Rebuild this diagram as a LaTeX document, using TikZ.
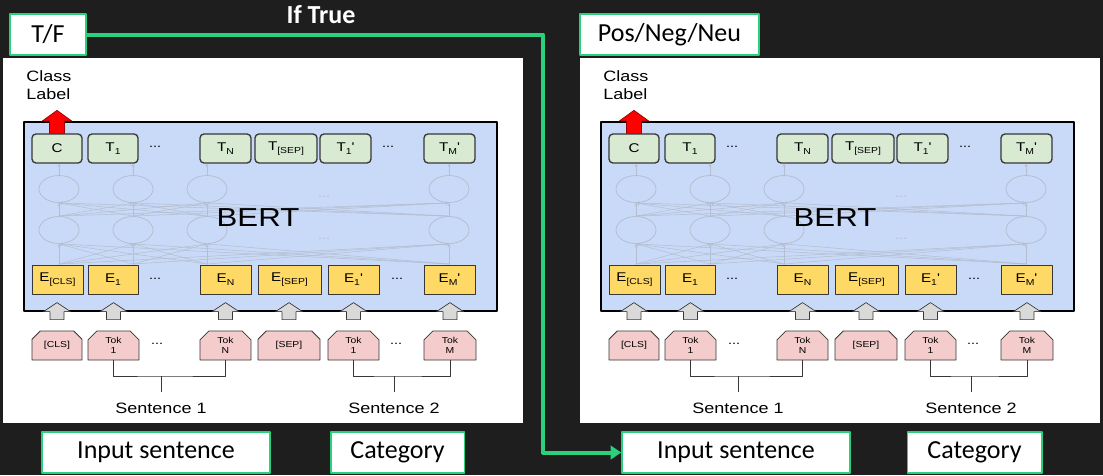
\documentclass[tikz,border=0pt]{standalone}
\usepackage{fontspec}
\setmainfont{Carlito}
\newfontfamily\bertfont[FakeStretch=1.2]{Liberation Sans}
\usetikzlibrary{positioning,calc,shapes.misc,shapes.geometric,arrows.meta}
\definecolor{bgdark}{RGB}{30,30,30}
\definecolor{linkgreen}{RGB}{42,208,124}
\definecolor{bertblue}{RGB}{201,218,248}
\definecolor{tfill}{RGB}{217,234,211}
\definecolor{efill}{RGB}{255,217,102}
\definecolor{tokfill}{RGB}{244,204,204}
\definecolor{netgray}{RGB}{180,190,208}
\definecolor{boxline}{RGB}{55,55,55}
\newcommand\bsub[1]{\raisebox{-0.4ex}{\fontsize{6.5}{7}\selectfont #1}}

\begin{document}
\begin{tikzpicture}[x=0.75pt, y=-0.75pt, line cap=round, line join=round]

% panel + box styles
\tikzset{
  panel/.style={fill=white, draw=none},
  bertbox/.style={fill=bertblue, draw=black, line width=1.5pt},
  tbox/.style={rounded corners=3pt, fill=tfill, draw=boxline, line width=1pt, minimum height=21.75pt, inner sep=0pt, font=\bertfont\fontsize{9.5}{10}\selectfont},
  ebox/.style={fill=efill, draw=boxline, line width=0.6pt, minimum height=21.75pt, inner sep=0pt, font=\bertfont\fontsize{9.5}{10}\selectfont},
  tokbox/.style={chamfered rectangle, chamfered rectangle corners={north west,north east}, chamfered rectangle xsep=3.5pt, fill=tokfill, draw=boxline, line width=0.6pt, minimum height=21.75pt, inner sep=0pt, align=center, font=\bertfont\fontsize{6.5}{7.5}\selectfont},
  dots/.style={font=\bertfont\fontsize{9}{9}\selectfont},
  faintdots/.style={dots, text=netgray},
  hid/.style={ellipse, draw=netgray, line width=0.6pt, minimum width=30pt, minimum height=20.25pt, inner sep=0pt},
  netarr/.style={draw=netgray, line width=0.4pt, -{Stealth[length=2.5pt,width=2.2pt]}},
  garrow/.style={fill=black!15, draw=boxline, line width=0.5pt},
  redarrow/.style={fill=red, draw=red!60!black, line width=0.5pt},
  brk/.style={draw=boxline, line width=0.6pt, line cap=butt},
  bertlab/.style={font=\bertfont\fontsize{19.5}{19.5}\selectfont},
  smalllab/.style={font=\bertfont\fontsize{11.25}{14}\selectfont, align=left, inner sep=0pt},
  greenbox/.style={fill=white, draw=linkgreen, line width=1pt, minimum height=30.75pt, inner sep=0pt, font=\fontsize{19.5}{22}\selectfont},
  link/.style={draw=linkgreen, line width=3pt, line cap=butt, -{Triangle[length=8pt,width=10pt]}},
}

\useasboundingbox (0,0) rectangle (1103,475);
\fill[bgdark] (0,0) rectangle (1103,475);

% the two BERT panels
\foreach \p/\dx in {L/0, R/577}{
\begin{scope}[shift={(\dx,0)}]
  \fill[panel] (3,58) rectangle (523,423);
  \draw[bertbox] (24,122) rectangle (497,311);
  \node[smalllab, anchor=west] (\p-class) at (26,85) {Class\\Label};

  % hidden layers
  \foreach \i/\x in {1/59, 2/133, 3/207, 4/449}{
    \node[hid] (\p-up\i) at (\x,189) {};
    \node[hid] (\p-lo\i) at (\x,230) {};
    \coordinate (\p-in\i) at (\x,264);
  }
  \node[faintdots] (\p-fd1) at (324,197) {...};
  \node[faintdots] (\p-fd2) at (324,239) {...};

  % output row
  \foreach \nm/\x/\bw/\lab in {C/57/50/C, T1/113/50/{T\bsub{1}}, TN/225.5/51/{T\bsub{N}},
      Tsep/286/62/{T\bsub{[SEP]}}, T1p/345.5/51/{T\bsub{1}'}, TMp/449.5/51/{T\bsub{M}'}}
    \node[tbox, minimum width=\bw*0.75pt] (\p-\nm) at (\x,148.5) {\lab};
  \node[dots] (\p-tdots1) at (155,147) {...};
  \node[dots] (\p-tdots2) at (388,147) {...};

  % embedding row
  \foreach \nm/\x/\bw/\lab in {Ecls/57.5/51/{E\bsub{[CLS]}}, E1/113/50/{E\bsub{1}}, EN/225.5/51/{E\bsub{N}},
      Esep/289.5/63/{E\bsub{[SEP]}}, E1p/353.5/51/{E\bsub{1}'}, EMp/449.5/51/{E\bsub{M}'}}
    \node[ebox, minimum width=\bw*0.75pt] (\p-\nm) at (\x,279.5) {\lab};
  \node[dots] (\p-edots1) at (155,279) {...};
  \node[dots] (\p-edots2) at (397,279) {...};

  % token row
  \foreach \nm/\x/\bw/\lab in {cls/57/50/{[CLS]}, tok1/113.5/51/{Tok\\1}, tokN/225.5/51/{Tok\\N},
      sep/289/62/{[SEP]}, tok1p/353.5/51/{Tok\\1}, tokM/450/52/{Tok\\M}}
    \node[tokbox, minimum width=\bw*0.75pt] (\p-\nm) at (\x,345.5) {\lab};
  \node[dots] (\p-kdots1) at (157,344) {...};
  \node[dots] (\p-kdots2) at (396,344) {...};

  % connections between layers
  \foreach \i in {1,...,4}{
    \foreach \j in {1,...,4}{
      \draw[netarr] (\p-lo\i.north) -- (\p-up\j.south);
      \draw[netarr] (\p-in\i) -- (\p-lo\j.south);
    }
    \draw[netarr] (\p-up\i.north) -- (\p-up\i.north |- \p-C.south);
  }
  \node[bertlab] (\p-bert) at (258,218) {BERT};

  % block arrows into the embeddings
  \foreach \nm in {cls,tok1,tokN,sep,tok1p,tokM}
    \filldraw[garrow] ($(\p-\nm.north)+(-7,-11)$) -- ++(0,-8) -- ++(-6.5,0) -- ++(13.5,-9)
      -- ++(13.5,9) -- ++(-6.5,0) -- ++(0,8) -- cycle;
  \filldraw[redarrow] ($(\p-C.north)+(-7.5,0)$) -- ++(0,-12.5) -- ++(-7,0) -- ++(14.5,-10.5)
    -- ++(14.5,10.5) -- ++(-7,0) -- ++(0,12.5) -- cycle;

  % sentence brackets
  \coordinate (\p-s1) at (161,376);
  \coordinate (\p-s2) at (394,376);
  \draw[brk] (\p-tok1.south) |- (\p-s1) -| (\p-tokN.south);
  \draw[brk] (\p-s1) -- ++(0,16);
  \draw[brk] (\p-tok1p.south) |- (\p-s2) -| (\p-tokM.south);
  \draw[brk] (\p-s2) -- ++(0,16);
  \node[smalllab] (\p-sen1) at (161,408) {Sentence 1};
  \node[smalllab] (\p-sen2) at (394,408) {Sentence 2};
\end{scope}
}

% task boxes
\node[greenbox, minimum width=57pt] (tf) at (48,34.5) {T/F};
\node[greenbox, minimum width=134.25pt] (pnn) at (669.5,34.5) {Pos/Neg/Neu};
\node[greenbox, minimum width=171pt] (inL) at (156,452.5) {Input sentence};
\node[greenbox, minimum width=100pt] (catL) at (397.5,452.5) {Category};
\node[greenbox, minimum width=171pt] (inR) at (736,452.5) {Input sentence};
\node[greenbox, minimum width=101pt] (catR) at (974.5,452.5) {Category};
\node[text=white, font=\bfseries\fontsize{19.5}{22}\selectfont] (iftrue) at (321,15) {If True};

% link from the first task to the second
\coordinate (bend) at (543,34.5);
\draw[link] (tf.east) -- (bend) |- (inR.west);

\end{tikzpicture}
\end{document}
